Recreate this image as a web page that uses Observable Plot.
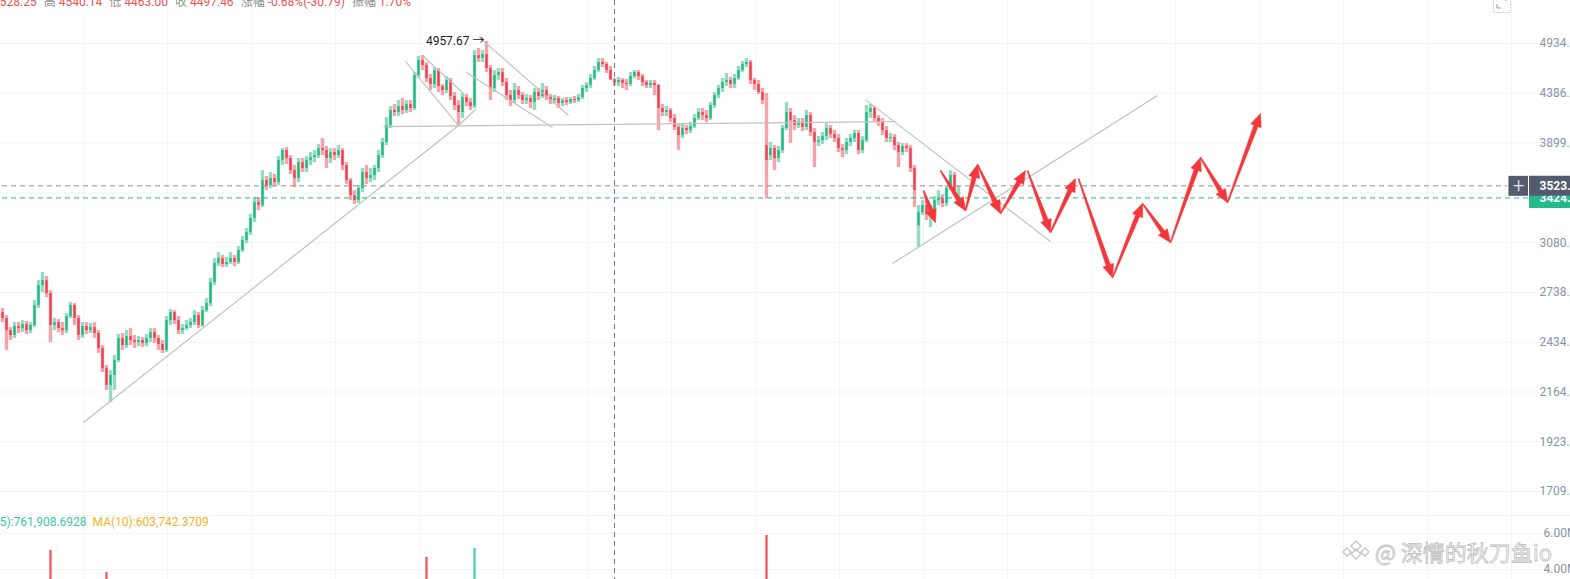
<!DOCTYPE html>
<html>
<head>
<meta charset="utf-8">
<script src="https://cdn.jsdelivr.net/npm/d3@7"></script>
<script src="https://cdn.jsdelivr.net/npm/@observablehq/plot@0.6"></script>
<style>
body{margin:0;background:#fff;}
#wrap{position:relative;width:1570px;height:579px;overflow:hidden;background:#fff;font-family:Roboto,"Noto Sans CJK SC",sans-serif;}
#price,#vol{position:absolute;left:0;overflow:hidden;}
#price{top:0;height:505px;width:1570px;}
#vol{top:505px;height:74px;width:1570px;}
.ov{position:absolute;white-space:nowrap;font-size:12px;line-height:12px;}
.l{color:#8f8f8f;margin:0 3px 0 7px;font-family:"Noto Sans CJK SC",sans-serif;}
.v{color:#ef5350;}
#wm{left:1340px;top:538px;font-size:22px;line-height:26px;color:rgba(255,255,255,0.75);-webkit-text-stroke:0.8px #bdbdbd;font-family:"Noto Sans CJK SC",sans-serif;}
</style>
</head>
<body>
<div id="wrap">
  <div id="price"></div>
  <div id="vol"></div>
  <div id="legend" class="ov" style="top:-5px;left:0"><span class="l" style="margin-left:0">开</span><span class="v"><span id="cut">4</span>528.25</span><span class="l">高</span><span class="v">4540.14</span><span class="l">低</span><span class="v">4463.00</span><span class="l">收</span><span class="v">4497.46</span><span class="l">涨幅</span><span class="v">-0.68%(-30.79)</span><span class="l">振幅</span><span class="v">1.70%</span></div>
  <div id="ma" class="ov" style="top:516px;left:0"><span style="color:#3cc7a5"><span id="cut2">VOL MA(</span>5):761,908.6928</span><span style="color:#f5b324;margin-left:6px">MA(10):603,742.3709</span></div>
  <div id="wm" class="ov"><svg width="32" height="26" viewBox="0 0 32 26" style="vertical-align:-4px;margin-right:3px"><g fill="none" stroke="#c4c4c4" stroke-width="1.3"><path d="M16 2 L21 7 L16 12 L11 7 Z"/><path d="M16 10 L21 15 L16 20 L11 15 Z"/><path d="M7 9 L11 13 L7 17 L3 13 Z"/><path d="M25 9 L29 13 L25 17 L21 13 Z"/></g></svg>@ 深情的秋刀鱼io</div>
  <div class="ov" style="left:1493px;top:-4px"><svg width="18" height="18"><rect x="0.5" y="0.5" width="17" height="16" fill="none" stroke="#cfcfcf" stroke-dasharray="2,1"/><path d="M4 8 V12 H8" fill="none" stroke="#999"/><path d="M13 0 V5" stroke="#999"/></svg></div>
</div>
<script>
// candles: [open, high, low, close]
const candles = [
[2611,2636,2550,2574],[2574,2593,2387,2502],[2502,2520,2444,2473],[2473,2550,2456,2526],
[2526,2550,2485,2514],[2514,2562,2490,2538],[2538,2556,2479,2502],[2502,2550,2485,2532],
[2532,2686,2520,2655],[2655,2816,2636,2783],[2783,2870,2737,2816],[2816,2843,2705,2731],
[2731,2750,2432,2532],[2532,2574,2502,2550],[2550,2568,2490,2514],[2514,2550,2473,2502],
[2502,2605,2485,2587],[2587,2674,2574,2655],[2655,2667,2532,2574],[2574,2593,2444,2473],
[2473,2550,2456,2526],[2526,2550,2479,2502],[2502,2544,2485,2520],[2520,2550,2456,2485],
[2485,2502,2370,2398],[2398,2415,2266,2286],[2286,2303,2171,2197],[2197,2276,2111,2250],
[2250,2359,2171,2331],[2331,2479,2320,2456],[2456,2485,2387,2415],[2415,2502,2398,2467],
[2467,2514,2415,2444],[2444,2473,2398,2432],[2432,2467,2409,2444],[2444,2461,2404,2427],
[2427,2479,2409,2456],[2456,2514,2432,2490],[2490,2514,2427,2456],[2456,2473,2387,2421],
[2421,2444,2370,2387],[2387,2587,2376,2562],[2562,2629,2532,2611],[2611,2623,2538,2562],
[2562,2587,2479,2502],[2502,2538,2479,2514],[2514,2562,2502,2532],[2532,2574,2514,2550],
[2550,2623,2532,2593],[2593,2611,2514,2532],[2532,2649,2520,2623],[2623,2699,2611,2667],
[2667,2830,2649,2803],[2803,2967,2783,2932],[2932,3009,2911,2967],[2967,2988,2904,2925],
[2925,2974,2904,2939],[2939,3009,2925,2967],[2967,2988,2911,2939],[2939,3052,2925,3023],
[3023,3126,3009,3096],[3096,3185,3074,3155],[3155,3292,3133,3261],[3261,3427,3230,3387],
[3387,3427,3323,3363],[3363,3653,3347,3568],[3568,3602,3484,3526],[3526,3636,3501,3585],
[3585,3619,3518,3551],[3551,3776,3526,3741],[3741,3848,3697,3830],[3830,3858,3706,3759],
[3759,3785,3619,3653],[3653,3697,3509,3585],[3585,3759,3551,3723],[3723,3759,3636,3671],
[3671,3776,3636,3741],[3741,3812,3697,3767],[3767,3830,3723,3785],[3785,3885,3759,3848],
[3848,3941,3785,3830],[3830,3867,3671,3759],[3759,3848,3715,3812],[3812,3848,3741,3785],
[3785,3876,3759,3830],[3830,3848,3653,3697],[3697,3723,3534,3568],[3568,3585,3403,3443],
[3443,3484,3371,3403],[3403,3526,3379,3501],[3501,3671,3468,3636],[3636,3697,3534,3585],
[3585,3671,3551,3610],[3610,3697,3568,3671],[3671,3830,3636,3785],[3785,3941,3759,3904],
[3904,4141,3876,4064],[4064,4251,4035,4211],[4211,4271,4151,4191],[4191,4311,4151,4251],
[4251,4332,4171,4211],[4211,4311,4181,4271],[4271,4311,4191,4231],[4231,4607,4211,4574],
[4574,4785,4542,4740],[4740,4796,4629,4684],[4684,4718,4499,4542],[4542,4585,4415,4478],
[4478,4662,4436,4629],[4629,4651,4394,4457],[4457,4478,4363,4415],[4415,4563,4384,4521],
[4521,4542,4311,4353],[4353,4394,4211,4261],[4261,4311,4064,4191],[4191,4384,4132,4342],
[4342,4373,4251,4291],[4291,4332,4211,4251],[4251,4853,4231,4796],[4796,4876,4718,4762],
[4762,4853,4718,4807],[4807,4957.67,4607,4651],[4651,4684,4311,4436],[4436,4629,4394,4574],
[4574,4651,4521,4607],[4607,4651,4457,4499],[4499,4542,4311,4363],[4363,4415,4251,4311],
[4311,4489,4281,4415],[4415,4457,4321,4363],[4363,4394,4271,4311],[4311,4373,4271,4332],
[4332,4363,4231,4291],[4291,4436,4211,4394],[4394,4436,4311,4353],[4353,4489,4332,4415],
[4415,4457,4311,4342],[4342,4373,4271,4311],[4311,4363,4271,4332],[4332,4353,4231,4281],
[4281,4332,4251,4311],[4311,4342,4261,4291],[4291,4342,4271,4322],[4322,4353,4281,4311],
[4311,4373,4291,4342],[4342,4467,4322,4436],[4436,4499,4394,4467],[4467,4585,4436,4542],
[4542,4673,4521,4629],[4629,4762,4607,4718],[4718,4762,4662,4695],[4695,4718,4596,4629],
[4629,4673,4521,4528.25],[4528.25,4540.14,4463.00,4497.46],[4497,4553,4457,4521],[4521,4542,4436,4489],
[4489,4531,4415,4478],[4478,4607,4457,4563],[4563,4629,4542,4607],[4607,4629,4521,4563],
[4563,4585,4457,4499],[4499,4521,4436,4467],[4467,4521,4436,4489],[4489,4521,4363,4467],
[4467,4478,4016,4231],[4231,4271,4151,4191],[4191,4251,4151,4211],[4211,4231,4093,4132],
[4132,4171,4016,4045],[4045,4074,3830,3969],[3969,4074,3941,4035],[4035,4064,3978,4016],
[4016,4093,3988,4054],[4054,4171,4035,4132],[4132,4231,4112,4191],[4191,4231,4112,4161],
[4161,4211,4093,4132],[4132,4291,4112,4261],[4261,4394,4231,4363],[4363,4467,4332,4436],
[4436,4542,4394,4499],[4499,4596,4457,4521],[4521,4553,4436,4478],[4478,4585,4436,4542],
[4542,4673,4521,4629],[4629,4729,4607,4695],[4695,4762,4662,4718],[4718,4740,4478,4521],
[4521,4542,4415,4478],[4478,4521,4373,4394],[4394,4436,4271,4311],[3876,4384,3419,3741],
[3785,3904,3741,3848],[3848,3876,3653,3759],[3759,3867,3723,3830],[3830,4064,3803,4035],
[4035,4291,4016,4191],[4191,4231,3894,4112],[4112,4161,4016,4064],[4064,4132,4035,4093],
[4093,4132,4007,4045],[4045,4211,4016,4161],[4161,4191,3960,3997],[3997,4035,3679,3904],
[3904,3960,3867,3922],[3922,3997,3885,3960],[3960,4083,3922,4035],[4035,4064,3941,3978],
[3978,4016,3904,3941],[3941,3978,3812,3848],[3848,3885,3767,3830],[3830,3941,3794,3904],
[3904,3978,3867,3941],[3941,4016,3904,3988],[3988,4016,3794,3830],[3830,3960,3803,3922],
[3922,4261,3904,4191],[4191,4271,4132,4231],[4231,4251,4093,4132],[4132,4161,4054,4093],
[4093,4132,3969,4016],[4016,4054,3904,3941],[3941,3988,3904,3950],[3950,3978,3830,3876],
[3876,3904,3679,3812],[3812,3894,3785,3867],[3867,3894,3812,3848],[3848,3876,3636,3671],
[3671,3697,3347,3484],[3207,3363,3045,3307],[3307,3403,3284,3363],[3363,3403,3246,3292],
[3292,3363,3192,3323],[3323,3435,3284,3403],[3403,3484,3363,3419],[3419,3451,3347,3379],
[3379,3526,3355,3501],[3501,3653,3484,3610],[3610,3636,3468,3484],[3403,3518,3379,3424]
];

// price axis
const priceTicks = [4934.29, 4386.03, 3899.86, 3466.9, 3080.57, 2738.34, 2434.41, 2164.06, 1923.60, 1709.99];
const priceTickLabels = ["4934.29", "4386.03", "3899.86", "", "3080.57", "2738.34", "2434.41", "2164.06", "1923.60", "1709.99"];
const crossPrice = 3523.64;
const lastPrice = 3424.31;
const crossIndex = 153;
const peakIndex = 121;
const peakPrice = 4957.67;

// drawn trend lines (bar index, price)
const lineX1 = [20.25, 95.25, 100.75, 105, 114, 119, 116, 215.75, 222.5];
const lineP1 = [2013, 4054, 4729, 4796, 4064, 5015, 4607, 4321, 2932];
const lineX2 = [114, 223.25, 114, 115.25, 118.25, 141.5, 137.5, 262, 288.75];
const lineP2 = [4064, 4102, 4064, 4384, 4221, 4161, 4045, 3089, 4363];

// red projection arrows
const arrowX1 = [230.25, 234.5, 240.75, 243.75, 249.5, 256.25, 262, 269, 277.5, 285, 292, 299.5, 306.25];
const arrowP1 = [3484, 3653, 3323, 3706, 3300, 3653, 3155, 3585, 2836, 3379, 3081, 3767, 3387];
const arrowX2 = [233.25, 240.75, 243.75, 249.5, 255.75, 262, 268.25, 277.5, 285, 292, 299.5, 306.25, 314.5];
const arrowP2 = [3230, 3323, 3706, 3300, 3653, 3155, 3585, 2836, 3379, 3081, 3767, 3387, 4181];

// volume (only the bars tall enough to show)
const volIndex = [12, 26, 106, 118, 191];
const volValue = [5.06e6, 3.83e6, 4.67e6, 5.17e6, 5.89e6];
const volTicks = [6e6, 4e6];
const volTickLabels = ["6.00M", "4.00M"];

const upC = "#22b584", downC = "#ef3c4a", paleUp = "#92dcc4", paleDown = "#f5a4aa";
const arrowC = "#f4373b";
const gridC = "#f3f4f6";
const rows = candles.map(([o, h, l, c], i) => ({i, o, h, l, c}));
const isUp = d => d.c >= d.o;
const gridIdx = d3.range(18).map(k => 20.25 + 21 * k);
const xDomain = [0, 376], xRange = [2, 1506];
const yDomain = [1709.99, 4934.29], yRange = [491, 43];
const X = {domain: xDomain, range: xRange, axis: null};

const lines = lineX1.map((x, k) => ({x1: x, y1: lineP1[k], x2: lineX2[k], y2: lineP2[k]}));

// arrow outlines: thin tail widening to a filled head, built in screen space
const xs = d3.scaleLinear(xDomain, xRange), ys = d3.scaleLog(yDomain, yRange);
const arrowPts = [];
arrowX1.forEach((x, k) => {
  const tx = xs(x), ty = ys(arrowP1[k]), hx = xs(arrowX2[k]), hy = ys(arrowP2[k]);
  const len = Math.hypot(hx - tx, hy - ty), ux = (hx - tx) / len, uy = (hy - ty) / len;
  const nx = -uy, ny = ux, hl = Math.min(13, len * 0.4);
  const bx = hx - ux * hl, by = hy - uy * hl;
  [[tx, ty, 0.5], [bx, by, 2.2], [bx, by, 5.5], [hx, hy, 0], [bx, by, -5.5], [bx, by, -2.2], [tx, ty, -0.5]]
    .forEach(([px, py, w]) => arrowPts.push({k, x: xs.invert(px + nx * w), y: ys.invert(py + ny * w)}));
});

const tickRows = priceTicks.map((v, k) => ({v, t: priceTickLabels[k]})).filter(d => d.t);

const price = Plot.plot({
  width: 1570, height: 505, margin: 0,
  x: X,
  y: {type: "log", domain: yDomain, range: yRange, axis: null},
  style: {fontFamily: "Roboto, 'Noto Sans CJK SC', sans-serif", fontSize: "12px", background: "transparent"},
  marks: [
    Plot.ruleY(priceTicks, {stroke: gridC}),
    Plot.ruleX(gridIdx, {stroke: gridC}),
    Plot.ruleX(rows, {filter: isUp, x: "i", y1: "l", y2: "h", stroke: paleUp, strokeWidth: 3.4}),
    Plot.ruleX(rows, {filter: d => !isUp(d), x: "i", y1: "l", y2: "h", stroke: paleDown, strokeWidth: 3.4}),
    Plot.ruleX(rows, {filter: isUp, x: "i", y1: "o", y2: "c", stroke: upC, strokeWidth: 2.2}),
    Plot.ruleX(rows, {filter: d => !isUp(d), x: "i", y1: "o", y2: "c", stroke: downC, strokeWidth: 2.2}),
    Plot.link(lines, {x1: "x1", y1: "y1", x2: "x2", y2: "y2", stroke: "#c2c2c2", strokeWidth: 1.2}),
    Plot.ruleX([crossIndex], {stroke: "#6f778a", strokeDasharray: "5,4"}),
    Plot.ruleY([crossPrice], {x1: 0, x2: 376.3, stroke: "#8a90a0", strokeDasharray: "5,4"}),
    Plot.ruleY([lastPrice], {x1: 0, x2: 382, stroke: "#22b98d", strokeDasharray: "5,4"}),
    Plot.line(arrowPts, {x: "x", y: "y", z: "k", fill: arrowC, stroke: arrowC, strokeWidth: 0.6, strokeLinejoin: "miter"}),
    Plot.text([peakPrice], {x: peakIndex, y: d => d, text: d => `${d} →`, textAnchor: "end", dx: -2, fontSize: 12, fill: "#1c1c1c"}),
    Plot.text(tickRows, {y: "v", text: "t", frameAnchor: "right", dx: -31, textAnchor: "start", fill: "#8a93a6", fontSize: 12}),
    // price labels on the right
    Plot.ruleY([lastPrice], {x1: 381.75, x2: 396, stroke: "#26b98e", strokeWidth: 20}),
    Plot.text([lastPrice], {y: d => d, text: d => d.toFixed(2), frameAnchor: "right", dx: -31, textAnchor: "start", fill: "#fff", fontWeight: "bold", fontSize: 12}),
    Plot.ruleY([crossPrice], {x1: 376.6, x2: 381.5, stroke: "#535b6e", strokeWidth: 20}),
    Plot.ruleY([crossPrice], {x1: 381.75, x2: 396, stroke: "#535b6e", strokeWidth: 20}),
    Plot.text([crossPrice], {x: 379.05, y: d => d, text: () => "+", fill: "#e8eaef", fontSize: 20, fontWeight: 300}),
    Plot.text([crossPrice], {y: d => d, text: d => d.toFixed(2), frameAnchor: "right", dx: -31, textAnchor: "start", fill: "#fff", fontWeight: "bold", fontSize: 12})
  ]
});
document.getElementById("price").append(price);

const volRows = volIndex.map((i, k) => ({i, v: volValue[k], up: isUp(rows[i])}));
const vol = Plot.plot({
  width: 1570, height: 74, margin: 0,
  x: X,
  y: {domain: [4e6, 6e6], range: [64, 28], axis: null},
  style: {fontFamily: "Roboto, sans-serif", fontSize: "12px", background: "transparent"},
  marks: [
    Plot.ruleY([7e6, 6e6, 4e6], {stroke: gridC}),
    Plot.ruleX(gridIdx, {stroke: gridC}),
    Plot.ruleX([crossIndex], {stroke: "#6f778a", strokeDasharray: "5,4"}),
    Plot.ruleX(volRows, {filter: d => d.up, x: "i", y1: 0, y2: "v", stroke: "#3fd0a8", strokeWidth: 2.2}),
    Plot.ruleX(volRows, {filter: d => !d.up, x: "i", y1: 0, y2: "v", stroke: "#f0505c", strokeWidth: 2.2}),
    Plot.text(volTicks, {y: d => d, text: (d, k) => volTickLabels[k], frameAnchor: "right", dx: -27, textAnchor: "start", fill: "#8a93a6", fontSize: 12})
  ]
});
document.getElementById("vol").append(vol);

// shift the header texts so their cut-off start sits left of the frame
const cut = document.getElementById("cut");
document.getElementById("legend").style.left = -(cut.offsetLeft + cut.offsetWidth) + "px";
const cut2 = document.getElementById("cut2");
document.getElementById("ma").style.left = -(cut2.offsetLeft + cut2.offsetWidth) + "px";
</script>
</body>
</html>
